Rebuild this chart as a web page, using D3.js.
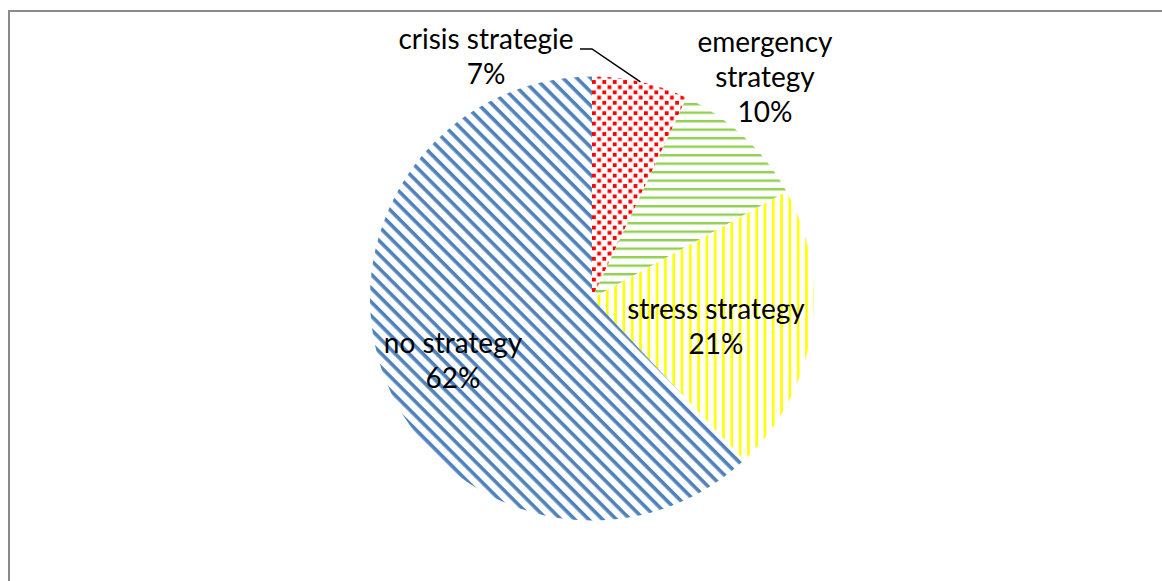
<!DOCTYPE html>
<html>
<head>
<meta charset="utf-8">
<script src="https://cdn.jsdelivr.net/npm/d3@7"></script>
<style>
  html, body { margin: 0; padding: 0; background: #fff; }
  svg { display: block; }
  text { font-family: Lato, "Open Sans", sans-serif; fill: #000; }
</style>
</head>
<body>
<svg id="chart" width="1162" height="581"></svg>
<script>
// Coping strategy shares (percent of households)
const categories = ["crisis strategie", "emergency strategy", "stress strategy", "no strategy"];
const shares = [7, 10, 21, 62];
// How each category name is broken into lines on the chart
const nameLines = [["crisis strategie"], ["emergency", "strategy"], ["stress strategy"], ["no strategy"]];

// Layout
const W = 1162, H = 581;
const cx = 592, cy = 298.5, radius = 222;
const fontSize = 28, lineHeight = 35;
// Baseline anchor of the first line of each label
const labelAnchors = [
  { x: 486, y: 49 },
  { x: 765, y: 52 },
  { x: 716, y: 319 },
  { x: 453, y: 353 }
];

const svg = d3.select("#chart");
const defs = svg.append("defs");

// Fill patterns, one per slice
function stripePattern(id, color, size, thickness, angle) {
  const p = defs.append("pattern")
    .attr("id", id)
    .attr("patternUnits", "userSpaceOnUse")
    .attr("width", size).attr("height", size)
    .attr("patternTransform", `rotate(${angle})`);
  p.append("rect").attr("width", size).attr("height", size).attr("fill", "#fff");
  p.append("rect").attr("x", 0).attr("y", 0)
    .attr("width", size).attr("height", thickness).attr("fill", color);
}

// red confetti of small squares
(function () {
  const pw = 10.4, ph = 10.4, s = 3.8;
  const p = defs.append("pattern")
    .attr("id", "pat-crisis")
    .attr("patternUnits", "userSpaceOnUse")
    .attr("width", pw).attr("height", ph);
  p.append("rect").attr("width", pw).attr("height", ph).attr("fill", "#fff");
  p.append("rect").attr("x", 0).attr("y", 0).attr("width", s).attr("height", s).attr("fill", "#ff0000");
  p.append("rect").attr("x", pw / 2).attr("y", ph / 2).attr("width", s).attr("height", s).attr("fill", "#ff0000");
})();
stripePattern("pat-emergency", "#92d050", 8.5, 2.4, 0);    // horizontal lines
stripePattern("pat-stress", "#ffff00", 8.3, 2.6, 90);      // vertical lines
stripePattern("pat-none", "#4f81bd", 9.8, 3.6, 45);        // downward diagonal

const patternIds = ["pat-crisis", "pat-emergency", "pat-stress", "pat-none"];
const color = d3.scaleOrdinal().domain(categories).range(patternIds.map(id => `url(#${id})`));

// Chart area frame
svg.append("rect")
  .attr("x", 9).attr("y", 11)
  .attr("width", W + 100).attr("height", H + 100)
  .attr("fill", "none")
  .attr("stroke", "#8a8a8a")
  .attr("stroke-width", 2);

const data = categories.map((c, i) => ({ category: c, value: shares[i], lines: nameLines[i], anchor: labelAnchors[i] }));

const pie = d3.pie().sort(null).value(d => d.value).startAngle(0).endAngle(2 * Math.PI);
const arc = d3.arc().innerRadius(0).outerRadius(radius);
const arcs = pie(data);

const g = svg.append("g").attr("transform", `translate(${cx},${cy})`);

g.selectAll("path.slice")
  .data(arcs)
  .join("path")
  .attr("class", "slice")
  .attr("d", arc)
  .attr("fill", d => color(d.data.category));

// Leader line for the thin crisis slice: from the label to the middle of its outer edge
const crisis = arcs[0];
const mid = (crisis.startAngle + crisis.endAngle) / 2;
const edge = [cx + radius * Math.sin(mid), cy - radius * Math.cos(mid)];
svg.append("polyline")
  .attr("points", [[580, 49], [592, 49], edge].map(p => p.join(",")).join(" "))
  .attr("fill", "none")
  .attr("stroke", "#000")
  .attr("stroke-width", 1.5);

// Data labels: category name then percentage
const labels = svg.selectAll("text.label")
  .data(arcs)
  .join("text")
  .attr("class", "label")
  .attr("text-anchor", "middle")
  .attr("font-size", fontSize);

labels.each(function (d) {
  const t = d3.select(this);
  const lines = d.data.lines.concat([`${d.data.value}%`]);
  lines.forEach((ln, i) => {
    t.append("tspan")
      .attr("x", d.data.anchor.x)
      .attr("y", d.data.anchor.y + i * lineHeight)
      .text(ln);
  });
});
</script>
</body>
</html>
